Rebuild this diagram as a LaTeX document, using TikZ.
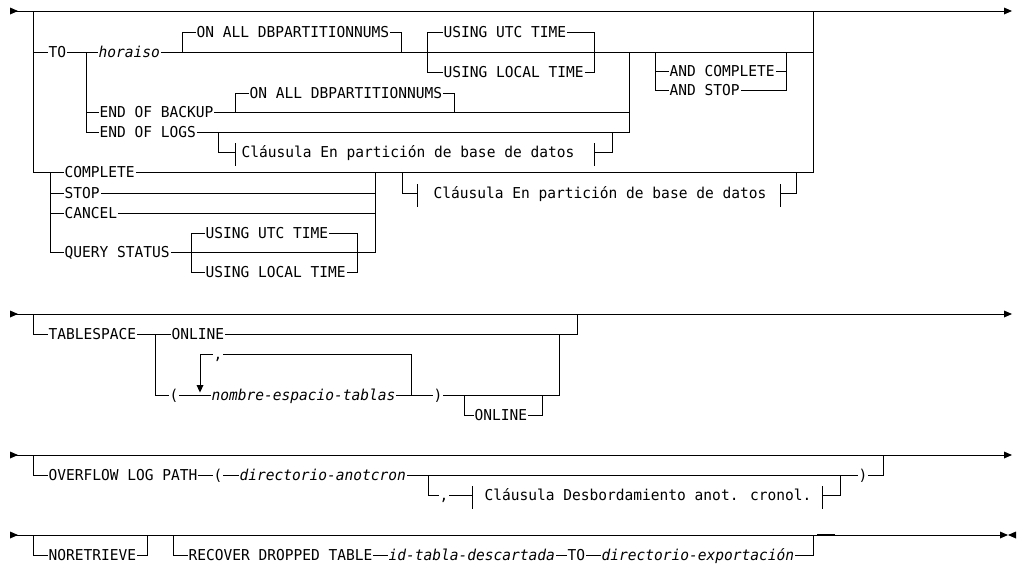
\documentclass[tikz,border=0pt]{standalone}
\usepackage{fontspec}
\newfontfamily\railfont{DejaVu Sans Mono}[FakeStretch=0.97]
\newcommand\railin[1]{\fill (10,{#1-3.5}) -- (18,#1) -- (10,{#1+3.5}) -- cycle;}
\newcommand\railout[1]{\fill (1004,{#1-3.5}) -- (1012,#1) -- (1004,{#1+3.5}) -- cycle;}
\newcommand\railtick[2]{\draw (#1,{#2-9}) -- (#1,{#2+13});}
\begin{document}
\begin{tikzpicture}[x=1pt,y=-1pt,line width=1pt,line cap=rect,
  kw/.style={anchor=west,inner xsep=1pt,inner ysep=0pt,text height=10pt,text depth=0pt,
    font=\railfont\fontsize{15}{17}\selectfont},
  var/.style={kw,font=\railfont\fontsize{15}{17}\selectfont\itshape}]
\useasboundingbox (0,0) rectangle (1017,565);

% ================= Row 1 =================
\node[kw]  (to)   at (47,52)  {TO};
\node[var] (hor)  at (97,52)  {horaiso};
\node[kw]  (oa1)  at (195,32) {ON ALL DBPARTITIONNUMS};
\node[kw]  (utc1) at (442,32) {USING UTC TIME};
\node[kw]  (loc1) at (442,72) {USING LOCAL TIME};
\node[kw]  (andc) at (668,71) {AND COMPLETE};
\node[kw]  (ands) at (668,90) {AND STOP};
\node[kw]  (eob)  at (98,112) {END OF BACKUP};
\node[kw]  (oa2)  at (248,93) {ON ALL DBPARTITIONNUMS};
\node[kw]  (eol)  at (98,132) {END OF LOGS};
\node[kw]  (cl1)  at (240,152) {Cláusula En partición de base de datos};
\node[kw]  (comp) at (63,172) {COMPLETE};
\node[kw]  (stop) at (63,193) {STOP};
\node[kw]  (canc) at (63,213) {CANCEL};
\node[kw]  (qs)   at (63,252) {QUERY STATUS};
\node[kw]  (utc2) at (204,233) {USING UTC TIME};
\node[kw]  (loc2) at (204,272) {USING LOCAL TIME};
\node[kw]  (cl2)  at (432,193) {Cláusula En partición de base de datos};

\railin{11}
\draw (10,11) -- (1004,11);
\railout{11}
\draw (33,11) -- (33,172) -- (comp.west);
\draw (33,52) -- (to.west);
\draw (to.east) -- (hor.west);
\draw (86,52) -- (86,132) -- (eol.west);
\draw (86,112) -- (eob.west);
\draw (hor.east) -- (813,52);
\draw (182,52) -- (182,32) -- (oa1.west);
\draw (oa1.east) -- (401,32) -- (401,52);
\draw (utc1.west) -- (427,32) -- (427,72) -- (loc1.west);
\draw (utc1.east) -- (594,32) -- (594,72) -- (loc1.east);
\draw (629,52) -- (629,132) -- (eol.east);
\draw (eob.east) -- (629,112);
\draw (235,112) -- (235,93) -- (oa2.west);
\draw (oa2.east) -- (454,93) -- (454,112);
\draw (218,132) -- (218,152) -- (235,152);
\railtick{235}{152}
\railtick{594}{152}
\draw (594,152) -- (612,152) -- (612,132);
\draw (andc.west) -- (655,71) -- (655,52);
\draw (655,71) -- (655,90) -- (ands.west);
\draw (andc.east) -- (786,71);
\draw (ands.east) -- (786,90) -- (786,52);
\draw (813,11) -- (813,172);
\draw (comp.east) -- (813,172);
\draw (50,172) -- (50,252) -- (qs.west);
\draw (50,193) -- (stop.west);
\draw (50,213) -- (canc.west);
\draw (stop.east) -- (375,193);
\draw (canc.east) -- (375,213);
\draw (qs.east) -- (375,252) -- (375,172);
\draw (utc2.west) -- (191,233) -- (191,272) -- (loc2.west);
\draw (utc2.east) -- (357,233) -- (357,272) -- (loc2.east);
\draw (402,172) -- (402,193) -- (417,193);
\railtick{417}{193}
\railtick{780}{193}
\draw (780,193) -- (796,193) -- (796,172);

% ================= Row 2 =================
\node[kw]  (ts)   at (47,334)  {TABLESPACE};
\node[kw]  (on1)  at (170,334) {ONLINE};
\node[kw]  (lp)   at (168,395) {(};
\node[kw]  (cm1)  at (212,354) {,};
\node[var] (nom)  at (210,395) {nombre-espacio-tablas};
\node[kw]  (rp)   at (432,395) {)};
\node[kw]  (on2)  at (473,415) {ONLINE};

\railin{314}
\draw (10,314) -- (1004,314);
\railout{314}
\draw (33,314) -- (33,334) -- (ts.west);
\draw (ts.east) -- (155,334) -- (155,395) -- (lp.west);
\draw (155,334) -- (on1.west);
\draw (on1.east) -- (577,334) -- (577,314);
\draw (lp.east) -- (nom.west);
\draw (nom.east) -- (rp.west);
\draw (rp.east) -- (559,395) -- (559,334);
\draw (411,395) -- (411,354) -- (cm1.east);
\draw (cm1.west) -- (200,354) -- (200,386);
\fill (196.5,385) -- (203.5,385) -- (200,392.5) -- cycle;
\draw (464,395) -- (464,415) -- (on2.west);
\draw (on2.east) -- (542,415) -- (542,395);

% ================= Row 3 =================
\node[kw]  (ov)   at (47,475)  {OVERFLOW LOG PATH};
\node[kw]  (lp3)  at (212,475) {(};
\node[var] (dir)  at (238,475) {directorio-anotcron};
\node[kw]  (cm3)  at (438,495) {,};
\node[kw]  (cl3)  at (483,495) {Cláusula Desbordamiento anot. cronol.};
\node[kw]  (rp3)  at (857,475) {)};

\railin{455}
\draw (10,455) -- (1004,455);
\railout{455}
\draw (33,455) -- (33,475) -- (ov.west);
\draw (ov.east) -- (lp3.west);
\draw (lp3.east) -- (dir.west);
\draw (dir.east) -- (rp3.west);
\draw (rp3.east) -- (883,475) -- (883,455);
\draw (428,475) -- (428,495) -- (cm3.west);
\draw (cm3.east) -- (472,495);
\railtick{472}{495}
\railtick{822}{495}
\draw (822,495) -- (840,495) -- (840,475);

% ================= Row 4 =================
\node[kw]  (nr)   at (47,555)  {NORETRIEVE};
\node[kw]  (rec)  at (187,555) {RECOVER DROPPED TABLE};
\node[var] (idt)  at (387,555) {id-tabla-descartada};
\node[kw]  (to4)  at (566,555) {TO};
\node[var] (dexp) at (600,555) {directorio-exportación};

\railin{535}
\draw (10,535) -- (1000,535);
\draw[line width=2pt,line cap=butt] (817,534.5) -- (835,534.5);
\fill (1000,531.5) -- (1008,535) -- (1000,538.5) -- cycle;
\fill (1016,531.5) -- (1008,535) -- (1016,538.5) -- cycle;
\draw (33,535) -- (33,555) -- (nr.west);
\draw (nr.east) -- (147,555) -- (147,535);
\draw (173,535) -- (173,555) -- (rec.west);
\draw (rec.east) -- (idt.west);
\draw (idt.east) -- (to4.west);
\draw (to4.east) -- (dexp.west);
\draw (dexp.east) -- (813,555) -- (813,535);
\end{tikzpicture}
\end{document}
